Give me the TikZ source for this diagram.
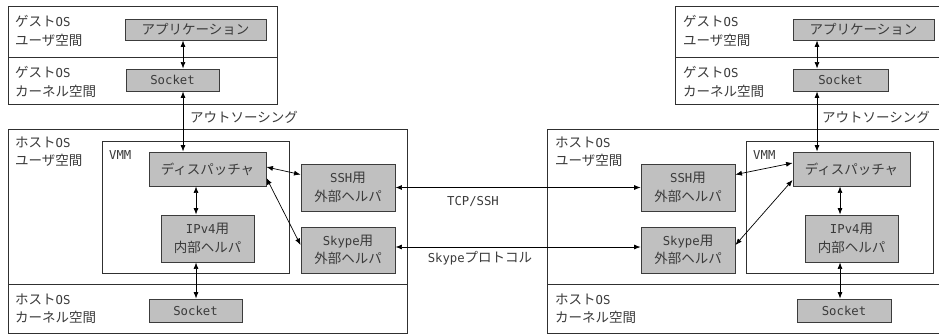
\documentclass[tikz,border=0pt]{standalone}
\usepackage{fontspec}
\setmainfont{Noto Sans CJK JP}
\newfontfamily\latfont{DejaVu Sans Mono}[Scale=0.91]
\newcommand{\mlat}[1]{{\latfont #1}}
\usetikzlibrary{arrows.meta,calc}
\definecolor{boxfill}{HTML}{C0C0C0}
\definecolor{boxline}{HTML}{3C3C3C}
\definecolor{grpline}{HTML}{303030}
\definecolor{txt}{HTML}{3A3A3A}
\tikzset{
  grp/.style={draw=grpline, line width=0.8pt, inner sep=0pt},
  gbox/.style={draw=boxline, fill=boxfill, line width=0.9pt, inner sep=0pt, align=center, text=txt, font=\fontsize{13.5}{18.5}\selectfont},
  lbl/.style={anchor=west, align=left, inner sep=0pt, text=txt, font=\fontsize{13.5}{18.5}\selectfont},
  plain/.style={inner sep=0pt, text=txt, font=\fontsize{13.5}{18.5}\selectfont},
  arr/.style={{Latex[length=6.5pt,width=5pt]}-{Latex[length=6.5pt,width=5pt]}, line width=0.7pt, draw=black}
}
\begin{document}
\begin{tikzpicture}[x=1pt,y=-1pt]
\useasboundingbox (0,0) rectangle (939,334);
\clip (0,0) rectangle (939,334);
% ---------- LEFT ----------
\node[grp, minimum width=269pt, minimum height=51pt] (gUL) at (142.5,31.5) {};
\node[grp, minimum width=269pt, minimum height=47pt] (gKL) at (142.5,80.5) {};
\node[grp, minimum width=399pt, minimum height=155pt] (hUL) at (207.5,206.5) {};
\node[grp, minimum width=399pt, minimum height=49pt] (hKL) at (207.5,308.5) {};
\node[grp, minimum width=187pt, minimum height=132pt] (vmmL) at (195.5,207) {};
\node[lbl] (lgUL) at (15,31) {ゲスト\mlat{OS}\\ユーザ空間};
\node[lbl] (lgKL) at (15,82) {ゲスト\mlat{OS}\\カーネル空間};
\node[lbl] (lhUL) at (15,152) {ホスト\mlat{OS}\\ユーザ空間};
\node[lbl] (lhKL) at (15,309) {ホスト\mlat{OS}\\カーネル空間};
\node[lbl] (lvmmL) at (109,155) {\mlat{VMM}};

\node[gbox, minimum width=141pt, minimum height=21pt] (appL) at (195.5,29.5) {アプリケーション};
\node[gbox, minimum width=93pt, minimum height=22pt] (sockGL) at (172.5,80) {\mlat{Socket}};
\node[gbox, minimum width=117pt, minimum height=34pt] (dispL) at (207.5,169) {ディスパッチャ};
\node[gbox, minimum width=93pt, minimum height=47pt] (ipL) at (207.5,238.5) {\mlat{IPv4}用\\内部ヘルパ};
\node[gbox, minimum width=94pt, minimum height=47pt] (sshL) at (348,187.5) {\mlat{SSH}用\\外部ヘルパ};
\node[gbox, minimum width=94pt, minimum height=46pt] (skyL) at (348,250) {\mlat{Skype}用\\外部ヘルパ};
\node[gbox, minimum width=93pt, minimum height=23pt] (sockHL) at (195.5,310.5) {\mlat{Socket}};

\coordinate (xL) at (183,0);
\coordinate (xL2) at (196,0);
\draw[arr] (appL.south -| xL) -- (sockGL.north -| xL);
\draw[arr] (sockGL.south -| xL) -- (dispL.north -| xL);
\draw[arr] (dispL.south -| xL2) -- (ipL.north -| xL2);
\draw[arr] (ipL.south -| xL2) -- (sockHL.north -| xL2);
\draw[arr] ([yshift=2pt]dispL.east) -- ([yshift=-11pt]sshL.north west);
\draw[arr] ([yshift=-9pt]dispL.east) -- ([yshift=5pt]skyL.west);
\node[plain, anchor=west] (outL) at (190,117) {アウトソーシング};

% ---------- RIGHT ----------
\node[grp, minimum width=270pt, minimum height=51pt] (gUR) at (810,31.5) {};
\node[grp, minimum width=270pt, minimum height=47pt] (gKR) at (810,80.5) {};
\node[grp, minimum width=398pt, minimum height=155pt] (hUR) at (746,206.5) {};
\node[grp, minimum width=398pt, minimum height=49pt] (hKR) at (746,308.5) {};
\node[grp, minimum width=187pt, minimum height=132pt] (vmmR) at (839.5,207) {};
\node[lbl] (lgUR) at (683,31) {ゲスト\mlat{OS}\\ユーザ空間};
\node[lbl] (lgKR) at (683,82) {ゲスト\mlat{OS}\\カーネル空間};
\node[lbl] (lhUR) at (555,152) {ホスト\mlat{OS}\\ユーザ空間};
\node[lbl] (lhKR) at (555,309) {ホスト\mlat{OS}\\カーネル空間};
\node[lbl] (lvmmR) at (753,155) {\mlat{VMM}};

\node[gbox, minimum width=141pt, minimum height=21pt] (appR) at (863.5,29.5) {アプリケーション};
\node[gbox, minimum width=95pt, minimum height=22pt] (sockGR) at (840.5,80) {\mlat{Socket}};
\node[gbox, minimum width=117pt, minimum height=34pt] (dispR) at (851.5,169) {ディスパッチャ};
\node[gbox, minimum width=93pt, minimum height=47pt] (ipR) at (851.5,238.5) {\mlat{IPv4}用\\内部ヘルパ};
\node[gbox, minimum width=94pt, minimum height=47pt] (sshR) at (688,187.5) {\mlat{SSH}用\\外部ヘルパ};
\node[gbox, minimum width=94pt, minimum height=46pt] (skyR) at (688,250) {\mlat{Skype}用\\外部ヘルパ};
\node[gbox, minimum width=94pt, minimum height=23pt] (sockHR) at (844,310.5) {\mlat{Socket}};

\coordinate (xR) at (817,0);
\coordinate (xR2) at (840,0);
\draw[arr] (appR.south -| xR) -- (sockGR.north -| xR);
\draw[arr] (sockGR.south -| xR) -- (dispR.north -| xR);
\draw[arr] (dispR.south -| xR2) -- (ipR.north -| xR2);
\draw[arr] (ipR.south -| xR2) -- (sockHR.north -| xR2);
\draw[arr] ([yshift=-11pt]sshR.north east) -- ([yshift=6pt]dispR.west);
\draw[arr] ([yshift=5pt]skyR.east) -- ([yshift=-11pt]dispR.west);
\node[plain, anchor=west] (outR) at (822,117) {アウトソーシング};

% ---------- BETWEEN ----------
\draw[arr] (sshL.east) -- (sshR.west);
\draw[arr] ([yshift=3pt]skyL.east) -- ([yshift=3pt]skyR.west);
\node[plain] (tcp) at (473,202) {\mlat{TCP/SSH}};
\node[plain] (skp) at (480,258) {\mlat{Skype}プロトコル};
\end{tikzpicture}
\end{document}
